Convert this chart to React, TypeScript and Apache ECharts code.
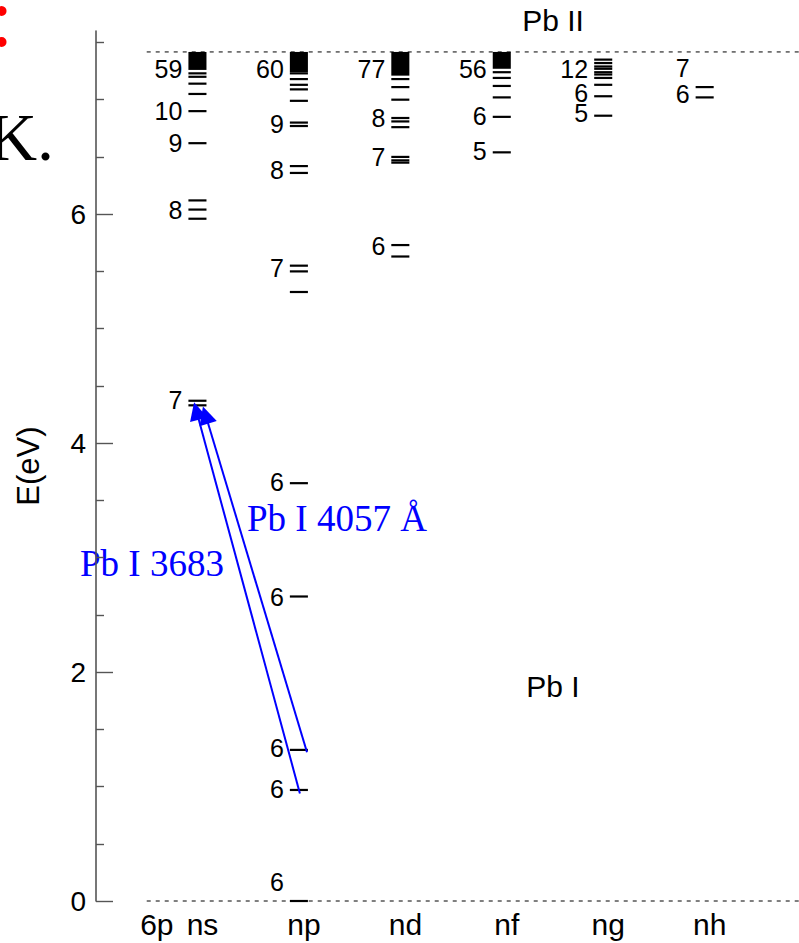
import React, { useEffect, useRef } from "react";
import * as echarts from "echarts";

// ---------- data ----------
const columnNames = ["ns", "np", "nd", "nf", "ng", "nh"];
const xLabelPos = [-0.4, 0.05, 1.05, 2.05, 3.05, 4.05, 5.05];
const xLabelText = ["6p", "ns", "np", "nd", "nf", "ng", "nh"];
const yMajorTicks = [0, 2, 4, 6];
const yMinorTicks = [0.5, 1, 1.5, 2.5, 3, 3.5, 4.5, 5, 5.5, 6.5, 7, 7.5];

const ionizationLimit = 7.417; // eV
const groundLevel = 0;

// energy levels (eV), per column
const nsLevels = [4.33, 4.37, 5.96, 6.04, 6.12, 6.62, 6.9, 7.05, 7.14, 7.2, 7.23];
const npLevels = [0, 0.97, 1.32, 2.66, 3.65, 5.32, 5.5, 5.55, 6.36, 6.42, 6.77, 6.8, 6.99, 7.09, 7.13, 7.18, 7.23];
const ndLevels = [5.63, 5.73, 6.45, 6.47, 6.5, 6.76, 6.81, 6.84, 7.0, 7.11, 7.18];
const nfLevels = [6.54, 6.85, 7.02, 7.12, 7.19, 7.24];
const ngLevels = [6.86, 7.03, 7.13, 7.19, 7.22, 7.24, 7.27, 7.29, 7.32, 7.35];
const nhLevels = [7.02, 7.11];

// dense (unresolved) level bands: [column, low eV, high eV]
const bandCols = [0, 1, 2, 3];
const bandLow = [7.26, 7.24, 7.21, 7.27];
const bandHigh = [7.417, 7.417, 7.417, 7.417];

// level labels
const labelCols = [0, 0, 0, 0, 0, 1, 1, 1, 1, 1, 1, 1, 1, 1, 2, 2, 2, 2, 3, 3, 3, 4, 4, 4, 5, 5];
const labelE = [7.27, 6.9, 6.62, 6.04, 4.38, 7.27, 6.79, 6.39, 5.53, 3.66, 2.66, 1.34, 0.98, 0.17, 7.27, 6.84, 6.5, 5.72, 7.27, 6.86, 6.55, 7.27, 7.06, 6.88, 7.28, 7.05];
const labelText = ["59", "10", "9", "8", "7", "60", "9", "8", "7", "6", "6", "6", "6", "6", "77", "8", "7", "6", "56", "6", "5", "12", "6", "5", "7", "6"];

// transitions (arrows): from lower level to upper level, [column, eV]
const transitionNames = ["Pb I 3683", "Pb I 4057 Å"];
const transitionFrom = [[1.01, 0.94], [1.08, 1.3]];
const transitionTo = [[-0.01, 4.28], [0.08, 4.245]];

// ---------- layout constants ----------
const X_MIN = -1;
const X_MAX = 5.93;
const Y_MIN = 0;
const Y_MAX = 7.6;
const LEVEL_HALF = 0.089;
const REF_LINE_START = -0.5;

const levelData: number[][] = [];
[nsLevels, npLevels, ndLevels, nfLevels, ngLevels, nhLevels].forEach((arr, c) => {
  arr.forEach((e) => levelData.push([c, e]));
});

export default function App() {
  const ref = useRef<HTMLDivElement>(null);
  useEffect(() => {
    document.body.style.margin = "0";
    const chart = echarts.init(ref.current!, null, { renderer: "svg" });
    const sans = "Liberation Sans, Arial, sans-serif";
    const serif = "Liberation Serif, Times New Roman, serif";
    const option: any = {
      animation: false,
      backgroundColor: "#ffffff",
      grid: { left: 96, right: 0, top: 31, bottom: 42, containLabel: false },
      xAxis: {
        type: "value",
        min: X_MIN,
        max: X_MAX,
        axisLine: { show: false, onZero: false },
        axisTick: { show: false },
        splitLine: { show: false },
        axisLabel: {
          customValues: xLabelPos,
          formatter: (v: number) => {
            const i = xLabelPos.findIndex((p) => Math.abs(p - v) < 1e-6);
            return i >= 0 ? xLabelText[i] : "";
          },
          fontSize: 30,
          color: "#000",
          fontFamily: sans,
          margin: 8,
        },
      },
      yAxis: [
        {
          type: "value",
          position: "left",
          min: Y_MIN,
          max: Y_MAX,
          name: "E(eV)",
          nameLocation: "middle",
          nameGap: 52,
          nameTextStyle: { fontSize: 31, color: "#000", fontFamily: sans },
          axisLine: { show: true, onZero: false, lineStyle: { color: "#555", width: 1.6 } },
          axisTick: { show: true, inside: true, length: 17, customValues: yMajorTicks, lineStyle: { color: "#555", width: 1.4 } },
          axisLabel: { customValues: yMajorTicks, fontSize: 28, color: "#000", fontFamily: sans, margin: 10 },
          splitLine: { show: false },
        },
        {
          type: "value",
          position: "left",
          min: Y_MIN,
          max: Y_MAX,
          axisLine: { show: false, onZero: false },
          axisTick: { show: true, inside: true, length: 8, customValues: yMinorTicks, lineStyle: { color: "#555", width: 1.4 } },
          axisLabel: { show: false },
          splitLine: { show: false },
        },
      ],
      series: [
        {
          type: "custom",
          name: "reference lines",
          data: [[REF_LINE_START, X_MAX, ionizationLimit], [REF_LINE_START, X_MAX, groundLevel]],
          encode: { x: [0, 1], y: 2 },
          renderItem: (params: any, api: any) => {
            const p1 = api.coord([api.value(0), api.value(2)]);
            const p2 = api.coord([api.value(1), api.value(2)]);
            return {
              type: "line",
              shape: { x1: p1[0], y1: p1[1], x2: p2[0], y2: p2[1] },
              style: { stroke: "#000", lineWidth: 1, lineDash: [4, 5] },
            };
          },
          z: 1,
        },
        {
          type: "custom",
          name: "bands",
          data: bandCols.map((c, i) => [c, bandLow[i], bandHigh[i]]),
          encode: { x: 0, y: [1, 2] },
          renderItem: (params: any, api: any) => {
            const c = api.value(0);
            const p1 = api.coord([c - LEVEL_HALF, api.value(2)]);
            const p2 = api.coord([c + LEVEL_HALF, api.value(1)]);
            return {
              type: "rect",
              shape: { x: p1[0], y: p1[1], width: p2[0] - p1[0], height: p2[1] - p1[1] },
              style: { fill: "#000" },
            };
          },
          z: 2,
        },
        {
          type: "custom",
          name: "levels",
          data: levelData,
          encode: { x: 0, y: 1 },
          renderItem: (params: any, api: any) => {
            const c = api.value(0);
            const e = api.value(1);
            const p1 = api.coord([c - LEVEL_HALF, e]);
            const p2 = api.coord([c + LEVEL_HALF, e]);
            return {
              type: "line",
              shape: { x1: p1[0], y1: p1[1], x2: p2[0], y2: p2[1] },
              style: { stroke: "#000", lineWidth: 2.2 },
            };
          },
          z: 3,
        },
        {
          type: "custom",
          name: "level labels",
          data: labelCols.map((c, i) => [c, labelE[i]]),
          encode: { x: 0, y: 1 },
          renderItem: (params: any, api: any) => {
            const c = api.value(0);
            const p = api.coord([c - LEVEL_HALF, api.value(1)]);
            return {
              type: "text",
              x: p[0] - 6,
              y: p[1],
              style: {
                text: labelText[params.dataIndex],
                align: "right",
                verticalAlign: "middle",
                fontSize: 25,
                fontFamily: sans,
                fill: "#000",
              },
            };
          },
          z: 4,
        },
        {
          type: "lines",
          name: "transitions",
          coordinateSystem: "cartesian2d",
          xAxisIndex: 0,
          yAxisIndex: 0,
          data: transitionNames.map((n, i) => ({ name: n, coords: [transitionFrom[i], transitionTo[i]] })),
          symbol: ["none", "triangle"],
          symbolSize: [13, 18],
          lineStyle: { color: "#0000ff", width: 2, curveness: 0, opacity: 1 },
          z: 5,
        },
      ],
      graphic: [
        { type: "text", x: 553, y: 20, style: { text: "Pb II", align: "center", verticalAlign: "middle", fontSize: 30, fontFamily: sans, fill: "#000" } },
        { type: "text", x: 553, y: 686, style: { text: "Pb I", align: "center", verticalAlign: "middle", fontSize: 30, fontFamily: sans, fill: "#000" } },
        { type: "text", x: 247, y: 518, style: { text: transitionNames[1], align: "left", verticalAlign: "middle", fontSize: 37, fontFamily: serif, fill: "#0000ff" } },
        { type: "text", x: 80, y: 563, style: { text: transitionNames[0], align: "left", verticalAlign: "middle", fontSize: 37, fontFamily: serif, fill: "#0000ff" } },
        { type: "text", x: -12, y: 137, style: { text: "K.", align: "left", verticalAlign: "middle", fontSize: 68, fontFamily: serif, fill: "#000" } },
        { type: "text", x: -10, y: 17, style: { text: ":", align: "left", verticalAlign: "middle", fontSize: 84, fontFamily: serif, fill: "#ff0000" } },
      ],
    };
    chart.setOption(option);
    return () => chart.dispose();
  }, []);
  return <div ref={ref} style={{ position: "fixed", left: 0, top: 0, width: 799, height: 943 }} />;
}
